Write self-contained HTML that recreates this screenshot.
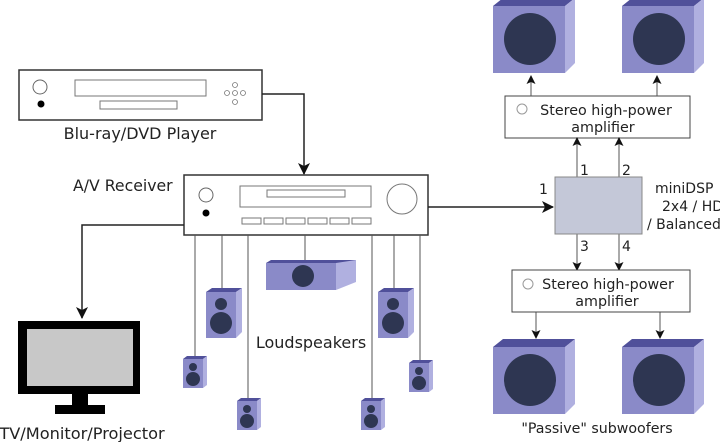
<!DOCTYPE html>
<html><head><meta charset="utf-8"><style>
html,body{margin:0;padding:0;background:#fff;width:720px;height:442px;overflow:hidden}
text{font-family:"DejaVu Sans","Liberation Sans",sans-serif;fill:#222}
</style></head><body>
<svg width="720" height="442" viewBox="0 0 720 442" xmlns="http://www.w3.org/2000/svg">
<defs>
<marker id="a" markerWidth="12" markerHeight="12" refX="11" refY="6" orient="auto" markerUnits="userSpaceOnUse">
<path d="M0,0 L12,6 L0,12 L3,6 z" fill="#111"/></marker>
<marker id="s" markerWidth="9" markerHeight="9" refX="8" refY="4.5" orient="auto" markerUnits="userSpaceOnUse">
<path d="M0,0 L9,4.5 L0,9 L2,4.5 z" fill="#111"/></marker>
<g id="sub">
<path d="M0,8 L10,0 L82,0 L72,8 z" fill="#50509a"/>
<rect x="0" y="8" width="72" height="67" fill="#8a8ac8"/>
<path d="M72,8 L82,0 L82,65 L72,75 z" fill="#b0b0e0"/>
<circle cx="37" cy="41" r="26" fill="#2e3652"/>
</g>
<g id="spk">
<path d="M0,4 L6,0 L36,0 L30,4 z" fill="#50509a"/>
<rect x="0" y="4" width="30" height="46" fill="#8a8ac8"/>
<path d="M30,4 L36,0 L36,44 L30,50 z" fill="#b0b0e0"/>
<circle cx="15" cy="16" r="6" fill="#2e3652"/>
<circle cx="15" cy="35" r="11" fill="#2e3652"/>
</g>
<g id="spks">
<path d="M0,3 L4,0 L24,0 L20,3 z" fill="#50509a"/>
<rect x="0" y="3" width="20" height="29" fill="#8a8ac8"/>
<path d="M20,3 L24,0 L24,29 L20,32 z" fill="#b0b0e0"/>
<circle cx="10" cy="11" r="4" fill="#2e3652"/>
<circle cx="10" cy="23" r="7" fill="#2e3652"/>
</g>
</defs>

<rect x="19" y="70" width="243" height="50" fill="#fff" stroke="#333" stroke-width="1.5"/>
<circle cx="40" cy="87" r="7" fill="none" stroke="#666"/>
<circle cx="41" cy="104" r="3.5" fill="#000"/>
<rect x="75" y="80" width="131" height="16" fill="none" stroke="#777"/>
<rect x="100" y="101" width="77" height="8" fill="none" stroke="#777"/>
<g fill="none" stroke="#777" stroke-width="0.8">
<circle cx="235" cy="85" r="2.5"/><circle cx="235" cy="93" r="2.5"/><circle cx="235" cy="102" r="2.5"/>
<circle cx="227" cy="93" r="2.5"/><circle cx="243" cy="93" r="2.5"/></g>
<text x="140" y="139" style="font-size:16px" text-anchor="middle">Blu-ray/DVD Player</text>
<path d="M262,94 L304,94 L304,174" fill="none" stroke="#222" stroke-width="1.5" marker-end="url(#a)"/>

<text x="73" y="191" style="font-size:15.7px">A/V Receiver</text>
<rect x="184" y="175" width="244" height="60" fill="#fff" stroke="#333" stroke-width="1.5"/>
<circle cx="206" cy="195" r="7" fill="none" stroke="#666"/>
<circle cx="206" cy="213" r="3.5" fill="#000"/>
<rect x="240" y="186" width="131" height="21" fill="none" stroke="#777"/>
<rect x="267" y="190" width="78" height="7" fill="none" stroke="#777"/>
<g fill="none" stroke="#777">
<rect x="242" y="218" width="19" height="6"/><rect x="264" y="218" width="19" height="6"/><rect x="286" y="218" width="19" height="6"/>
<rect x="308" y="218" width="19" height="6"/><rect x="330" y="218" width="19" height="6"/><rect x="352" y="218" width="19" height="6"/></g>
<circle cx="402" cy="199" r="15" fill="none" stroke="#777"/>
<path d="M428,207 L553,207" stroke="#222" stroke-width="1.5" marker-end="url(#a)"/>
<path d="M184,225 L82,225 L82,318" fill="none" stroke="#222" stroke-width="1.5" marker-end="url(#a)"/>

<rect x="18" y="321" width="122" height="73" fill="#000"/>
<rect x="27" y="329" width="106" height="57" fill="#c8c8c8"/>
<rect x="72" y="394" width="16" height="11" fill="#000"/>
<rect x="55" y="405" width="50" height="9" fill="#000"/>
<text x="82" y="439" style="font-size:16.2px" text-anchor="middle">TV/Monitor/Projector</text>

<g stroke="#555" stroke-width="1">
<path d="M195,235 V358"/><path d="M222,235 V290"/><path d="M248,235 V400"/><path d="M305,235 V262"/>
<path d="M372,235 V400"/><path d="M394,235 V290"/><path d="M420,235 V362"/></g>
<path d="M266,263 L271,260 L356,260 L351,263 z" fill="#50509a"/>
<rect x="266" y="263" width="70" height="27" fill="#8a8ac8"/>
<path d="M336,263 L356,260 L356,282 L336,290 z" fill="#b0b0e0"/>
<circle cx="303" cy="276" r="11" fill="#2e3652"/>
<use href="#spk" x="206" y="288"/>
<use href="#spk" x="378" y="288"/>
<use href="#spks" x="183" y="356"/>
<use href="#spks" x="237" y="398"/>
<use href="#spks" x="361" y="398"/>
<use href="#spks" x="409" y="360"/>
<text x="311" y="348" style="font-size:16px" text-anchor="middle">Loudspeakers</text>

<use href="#sub" x="493" y="-2"/>
<use href="#sub" x="622" y="-2"/>
<rect x="505" y="96" width="185" height="42" fill="#fff" stroke="#444"/>
<circle cx="522" cy="109" r="5" fill="none" stroke="#999"/>
<text x="606" y="115" style="font-size:14.3px" text-anchor="middle">Stereo high-power</text>
<text x="603" y="132" style="font-size:14.3px" text-anchor="middle">amplifier</text>
<g stroke="#555" stroke-width="1" fill="none">
<path d="M531,96 V76" marker-end="url(#s)"/><path d="M657,96 V76" marker-end="url(#s)"/>
<path d="M577,177 V138" marker-end="url(#s)"/><path d="M619,177 V138" marker-end="url(#s)"/>
<path d="M577,234 V270" marker-end="url(#s)"/><path d="M619,234 V270" marker-end="url(#s)"/>
<path d="M536,312 V338" marker-end="url(#s)"/><path d="M660,312 V338" marker-end="url(#s)"/>
</g>
<rect x="555" y="177" width="87" height="57" fill="#c4c8d8" stroke="#888"/>
<text x="580" y="175" style="font-size:14px">1</text>
<text x="622" y="175" style="font-size:14px">2</text>
<text x="539" y="194" style="font-size:14px">1</text>
<text x="580" y="251" style="font-size:14px">3</text>
<text x="622" y="251" style="font-size:14px">4</text>
<text x="655" y="193" style="font-size:14px">miniDSP</text>
<text x="662" y="211" style="font-size:14px">2x4 / HD</text>
<text x="647" y="229" style="font-size:14px">/ Balanced</text>
<rect x="512" y="270" width="178" height="42" fill="#fff" stroke="#444"/>
<circle cx="528" cy="284" r="5" fill="none" stroke="#999"/>
<text x="608" y="289" style="font-size:14.3px" text-anchor="middle">Stereo high-power</text>
<text x="607" y="306" style="font-size:14.3px" text-anchor="middle">amplifier</text>
<use href="#sub" x="493" y="339"/>
<use href="#sub" x="622" y="339"/>
<text x="597" y="433" style="font-size:14.2px" text-anchor="middle">"Passive" subwoofers</text>
</svg>
</body></html>
